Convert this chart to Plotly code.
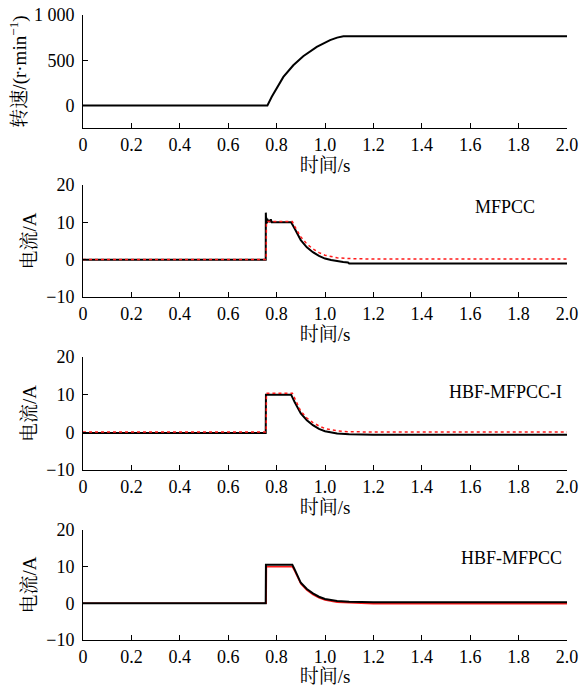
import plotly.graph_objects as go

# ---------------- data ----------------
x_tick_vals = [0, 0.2, 0.4, 0.6, 0.8, 1.0, 1.2, 1.4, 1.6, 1.8, 2.0]
x_tick_text = ["0", "0.2", "0.4", "0.6", "0.8", "1.0", "1.2", "1.4", "1.6", "1.8", "2.0"]
speed_tick_vals = [0, 500, 1000]
speed_tick_text = ["0", "500", "1 000"]
cur_tick_vals = [-10, 0, 10, 20]
cur_tick_text = ["\u221210", "0", "10", "20"]

# speed
t_speed = [0, 0.762, 0.78, 0.80, 0.828, 0.869, 0.91, 0.966, 1.021, 1.05, 1.076, 1.2, 2.0]
speed = [0, 0, 95, 185, 315, 444, 544, 648, 722, 750, 765, 765, 765]

# MFPCC
t_mf_act = [0, 0.755, 0.7555, 0.757, 0.7585, 0.760, 0.762, 0.765, 0.768, 0.772, 0.776, 0.78,
            0.86, 0.875, 0.9, 0.925, 0.95, 0.975, 1.0, 1.025, 1.05, 1.075, 1.095, 1.1, 2.0]
i_mf_act = [0, 0, 12.6, 9.6, 11.2, 9.8, 10.9, 10.1, 10.6, 10.1, 10.8, 10.0,
            10.0, 8.3, 5.2, 3.3, 2.0, 1.0, 0.3, -0.1, -0.45, -0.65, -0.75, -1.05, -1.05]
t_mf_ref = [0, 0.757, 0.758, 0.865, 0.875, 0.9, 0.925, 0.95, 0.975, 1.0, 1.05, 1.1, 1.2, 2.0]
i_mf_ref = [0.05, 0.05, 10.2, 10.2, 8.9, 6.1, 4.2, 2.9, 1.9, 1.2, 0.5, 0.3, 0.15, 0.15]

# HBF-MFPCC-I
t_hi_act = [0, 0.755, 0.756, 0.86, 0.875, 0.9, 0.925, 0.95, 0.975, 1.0, 1.05, 1.1, 1.2, 2.0]
i_hi_act = [-0.2, -0.2, 10.0, 10.0, 8.0, 5.0, 3.2, 1.9, 0.9, 0.3, -0.3, -0.5, -0.65, -0.65]
t_hi_ref = [0, 0.757, 0.758, 0.865, 0.875, 0.9, 0.925, 0.95, 0.975, 1.0, 1.05, 1.1, 1.2, 2.0]
i_hi_ref = [0.1, 0.1, 10.4, 10.4, 9.0, 5.6, 3.8, 2.6, 1.7, 1.0, 0.4, 0.15, 0.1, 0.1]

# HBF-MFPCC
t_hb_act = [0, 0.755, 0.756, 0.865, 0.875, 0.9, 0.925, 0.95, 0.975, 1.0, 1.05, 1.1, 1.2, 2.0]
i_hb_act = [0.05, 0.05, 10.5, 10.5, 9.2, 5.6, 3.9, 2.7, 1.8, 1.2, 0.65, 0.45, 0.3, 0.3]
t_hb_ref = [0, 0.757, 0.758, 0.865, 0.875, 0.9, 0.925, 0.95, 0.975, 1.0, 1.05, 1.1, 1.2, 2.0]
i_hb_ref = [0.0, 0.0, 10.0, 10.0, 8.8, 5.3, 3.6, 2.4, 1.5, 0.9, 0.3, 0.1, -0.1, -0.1]

labels = ["MFPCC", "HBF-MFPCC-I", "HBF-MFPCC"]

# ---------------- figure ----------------
W, H = 587, 687
FONT = "Liberation Serif, 'Noto Serif CJK SC', 'Noto Sans CJK SC', serif"
BLACK = "#000000"
RED = "#ff1a1a"
TICK_SIZE = 18
TITLE_SIZE = 19

def py(p):
    return 1 - p / H

x_dom = [83 / W, 567 / W]
y_doms = [
    [py(128), py(15)],
    [py(297), py(185)],
    [py(470), py(357)],
    [py(640), py(530)],
]

fig = go.Figure()

fig.add_trace(go.Scatter(x=t_speed, y=speed, mode="lines",
                         line=dict(color=BLACK, width=2), xaxis="x", yaxis="y", showlegend=False))

panels = [
    (t_mf_act, i_mf_act, t_mf_ref, i_mf_ref, "dot", False),
    (t_hi_act, i_hi_act, t_hi_ref, i_hi_ref, "dot", False),
    (t_hb_act, i_hb_act, t_hb_ref, i_hb_ref, "solid", True),
]
for k, (ta, ia, tr, ir, dash, ref_first) in enumerate(panels):
    xa = "x%d" % (k + 2)
    ya = "y%d" % (k + 2)
    act = go.Scatter(x=ta, y=ia, mode="lines", line=dict(color=BLACK, width=2),
                     xaxis=xa, yaxis=ya, showlegend=False)
    ref = go.Scatter(x=tr, y=ir, mode="lines", line=dict(color=RED, width=1.5, dash=dash),
                     xaxis=xa, yaxis=ya, showlegend=False)
    if ref_first:
        fig.add_trace(ref)
        fig.add_trace(act)
    else:
        fig.add_trace(act)
        fig.add_trace(ref)

common_x = dict(range=[0, 2.0], tickmode="array", tickvals=x_tick_vals, ticktext=x_tick_text,
                ticks="inside", ticklen=5, tickcolor=BLACK, showline=True, linecolor=BLACK,
                linewidth=1, mirror=False, showgrid=False, zeroline=False,
                tickfont=dict(family=FONT, size=TICK_SIZE, color=BLACK),
                title=dict(text="时间/s", font=dict(family=FONT, size=TITLE_SIZE, color=BLACK), standoff=1),
                domain=x_dom, automargin=False)
common_y = dict(ticks="inside", ticklen=5, tickcolor=BLACK, showline=True, linecolor=BLACK,
                linewidth=1, mirror=False, showgrid=False, zeroline=False,
                tickfont=dict(family=FONT, size=TICK_SIZE, color=BLACK), tickmode="array",
                ticklabelstandoff=4, automargin=False)

layout = dict(width=W, height=H, margin=dict(l=0, r=0, t=0, b=0),
              paper_bgcolor="white", plot_bgcolor="white",
              font=dict(family=FONT, size=TICK_SIZE, color=BLACK))

for k in range(4):
    sx = "" if k == 0 else str(k + 1)
    xa = dict(common_x)
    xa["anchor"] = "y" + sx
    layout["xaxis" + sx] = xa
    ya = dict(common_y)
    ya["anchor"] = "x" + sx
    ya["domain"] = y_doms[k]
    if k == 0:
        ya.update(range=[-250, 1000], tickvals=speed_tick_vals, ticktext=speed_tick_text,
                  title=dict(text="转速/(r·min<sup>−1</sup>)", font=dict(family=FONT, size=TITLE_SIZE, color=BLACK), standoff=2))
    else:
        ya.update(range=[-10, 20], tickvals=cur_tick_vals, ticktext=cur_tick_text,
                  title=dict(text="电流/A", font=dict(family=FONT, size=TITLE_SIZE, color=BLACK), standoff=4))
    layout["yaxis" + sx] = ya

fig.update_layout(**layout)

ann_pos = [(505, 207), (505, 392), (511, 558)]
for lab, (ax_, ay_) in zip(labels, ann_pos):
    fig.add_annotation(x=ax_ / W, y=py(ay_), xref="paper", yref="paper", text=lab,
                       showarrow=False, xanchor="center", yanchor="middle",
                       font=dict(family=FONT, size=TICK_SIZE, color=BLACK))

fig.write_html("out.html", config={"displayModeBar": False},
               post_script="document.body.style.margin='0';document.body.style.overflow='hidden';")
